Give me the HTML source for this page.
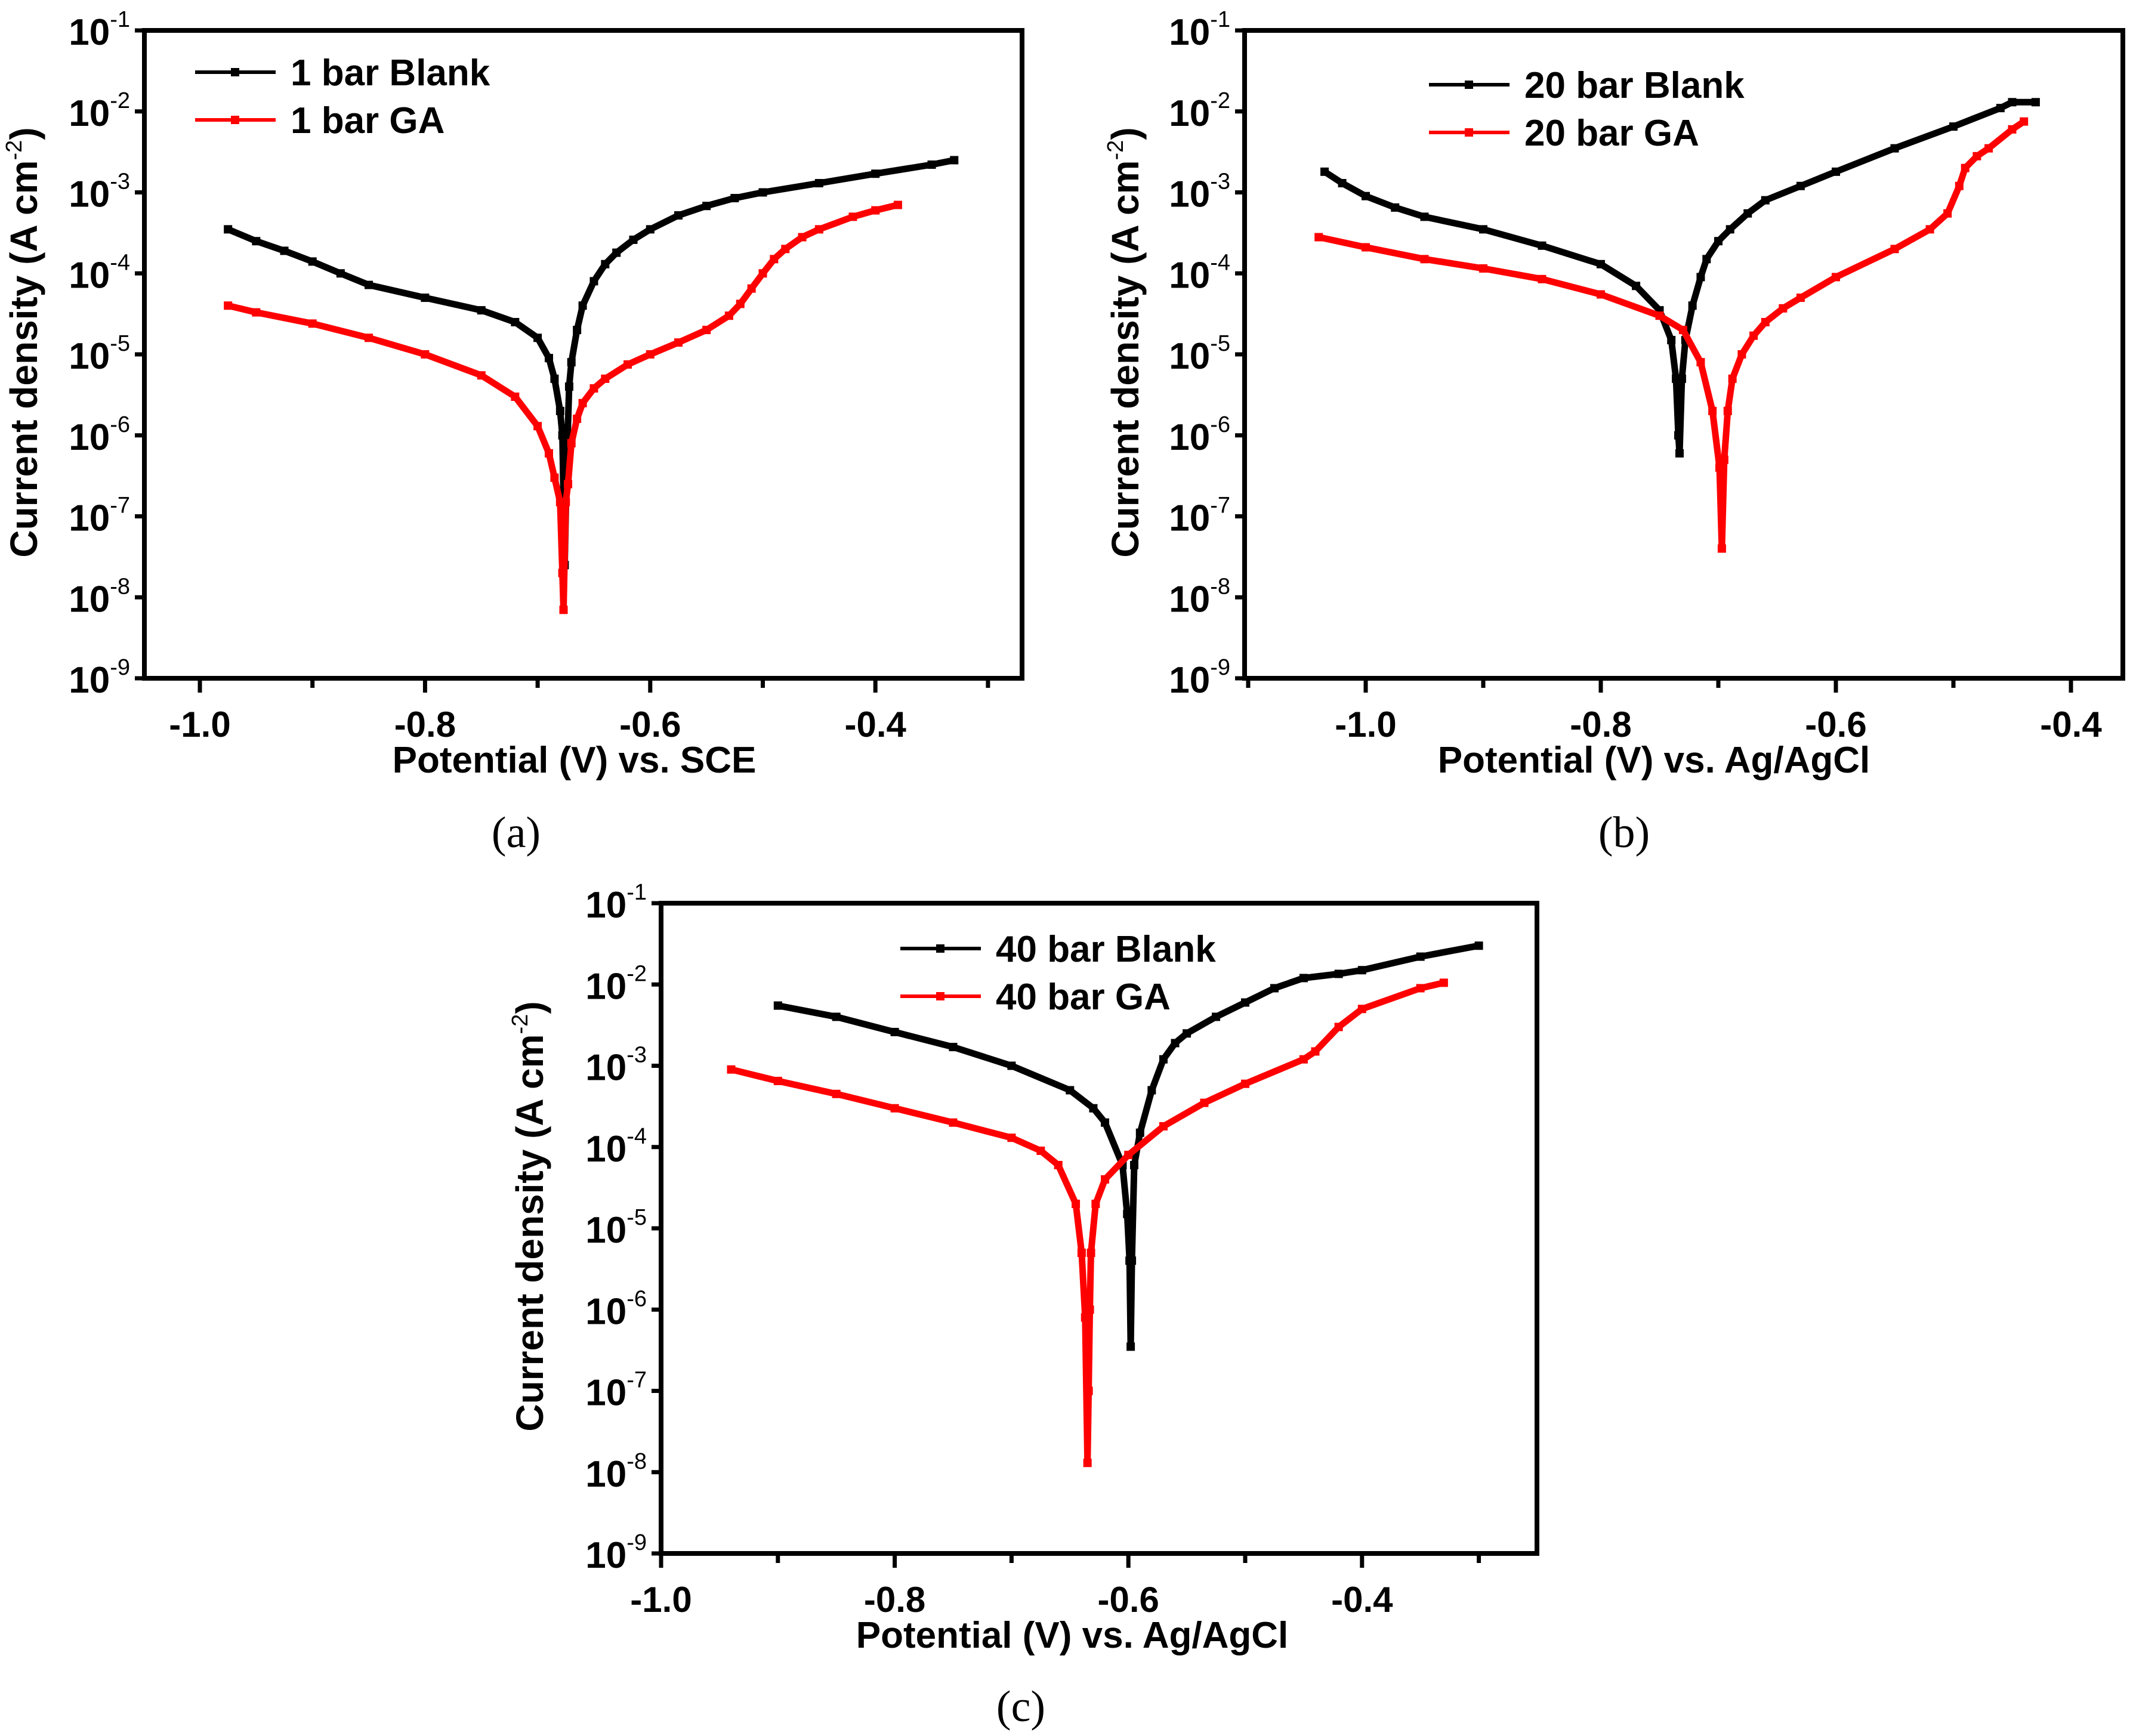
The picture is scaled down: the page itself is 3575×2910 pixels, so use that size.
<!DOCTYPE html>
<html><head><meta charset="utf-8"><style>
body{margin:0;background:#fff}
svg{display:block}
text{font-family:"Liberation Sans",Arial,sans-serif;font-weight:bold;fill:#000}
.cap{font-family:"Liberation Serif",serif;font-weight:normal}
</style></head><body>
<svg id="fig" width="3575" height="2910" viewBox="0 0 3575 2910" xmlns="http://www.w3.org/2000/svg">
<rect width="3575" height="2910" fill="#fff"/>
</svg>
<script>
// Panel (a) data
const aBlankX=[-0.975,-0.95,-0.925,-0.9,-0.875,-0.85,-0.8,-0.75,-0.72,-0.70,-0.69,-0.685,-0.68,-0.678,-0.676,-0.674,-0.672,-0.67,-0.665,-0.66,-0.65,-0.64,-0.63,-0.615,-0.6,-0.575,-0.55,-0.525,-0.5,-0.45,-0.4,-0.35,-0.33];
const aBlankY=[3.5e-4,2.5e-4,1.9e-4,1.4e-4,1e-4,7.2e-5,5e-5,3.5e-5,2.5e-5,1.6e-5,9e-6,5e-6,2e-6,1e-6,2.5e-8,5e-7,4e-6,8e-6,2e-5,4e-5,8e-5,1.3e-4,1.8e-4,2.6e-4,3.5e-4,5.2e-4,6.8e-4,8.5e-4,1e-3,1.3e-3,1.7e-3,2.2e-3,2.5e-3];
const aGaX=[-0.975,-0.95,-0.9,-0.85,-0.8,-0.75,-0.72,-0.70,-0.69,-0.685,-0.68,-0.678,-0.677,-0.675,-0.673,-0.67,-0.665,-0.66,-0.65,-0.64,-0.62,-0.6,-0.575,-0.55,-0.53,-0.52,-0.51,-0.5,-0.49,-0.48,-0.465,-0.45,-0.42,-0.4,-0.38];
const aGaY=[4e-5,3.3e-5,2.4e-5,1.6e-5,1e-5,5.5e-6,3e-6,1.3e-6,6e-7,3e-7,1.5e-7,2e-8,7e-9,1.5e-7,2.5e-7,8e-7,1.6e-6,2.5e-6,3.8e-6,5e-6,7.5e-6,1e-5,1.4e-5,2e-5,3e-5,4.2e-5,6.5e-5,1e-4,1.5e-4,2e-4,2.8e-4,3.5e-4,5e-4,6e-4,7e-4];
// Panel (b) data
const bBlankX=[-1.035,-1.02,-1.0,-0.975,-0.95,-0.9,-0.85,-0.8,-0.77,-0.75,-0.74,-0.736,-0.734,-0.733,-0.731,-0.728,-0.722,-0.715,-0.71,-0.7,-0.69,-0.675,-0.66,-0.63,-0.6,-0.55,-0.5,-0.46,-0.45,-0.43];
const bBlankY=[1.8e-3,1.3e-3,9e-4,6.5e-4,5e-4,3.5e-4,2.2e-4,1.3e-4,7e-5,3.5e-5,1.5e-5,5e-6,1e-6,6e-7,5e-6,1.5e-5,4e-5,9e-5,1.5e-4,2.5e-4,3.5e-4,5.5e-4,8e-4,1.2e-3,1.8e-3,3.5e-3,6.5e-3,1.1e-2,1.3e-2,1.3e-2];
const bGaX=[-1.04,-1.0,-0.95,-0.9,-0.85,-0.8,-0.75,-0.73,-0.715,-0.705,-0.699,-0.697,-0.695,-0.692,-0.688,-0.68,-0.67,-0.66,-0.645,-0.63,-0.6,-0.55,-0.52,-0.505,-0.495,-0.49,-0.48,-0.47,-0.45,-0.44];
const bGaY=[2.8e-4,2.1e-4,1.5e-4,1.15e-4,8.5e-5,5.5e-5,3e-5,2e-5,8e-6,2e-6,4e-7,4e-8,5e-7,2e-6,5e-6,1e-5,1.7e-5,2.5e-5,3.7e-5,5e-5,9e-5,2e-4,3.5e-4,5.5e-4,1.2e-3,2e-3,2.8e-3,3.5e-3,6e-3,7.5e-3];
// Panel (c) data
const cBlankX=[-0.9,-0.85,-0.8,-0.75,-0.7,-0.65,-0.63,-0.62,-0.605,-0.601,-0.599,-0.598,-0.597,-0.595,-0.59,-0.58,-0.57,-0.56,-0.55,-0.525,-0.5,-0.475,-0.45,-0.42,-0.4,-0.35,-0.3];
const cBlankY=[5.5e-3,4e-3,2.6e-3,1.7e-3,1e-3,5e-4,3e-4,2e-4,6e-5,1.5e-5,4e-6,3.5e-7,4e-6,6e-5,1.5e-4,5e-4,1.2e-3,1.9e-3,2.5e-3,4e-3,6e-3,9e-3,1.2e-2,1.35e-2,1.5e-2,2.2e-2,3e-2];
const cGaX=[-0.94,-0.9,-0.85,-0.8,-0.75,-0.7,-0.675,-0.66,-0.645,-0.64,-0.637,-0.635,-0.634,-0.633,-0.632,-0.628,-0.62,-0.6,-0.57,-0.535,-0.5,-0.45,-0.44,-0.42,-0.4,-0.35,-0.33];
const cGaY=[9e-4,6.5e-4,4.5e-4,3e-4,2e-4,1.3e-4,9e-5,6e-5,2e-5,5e-6,8e-7,1.3e-8,1e-7,1e-6,5e-6,2e-5,4e-5,8e-5,1.8e-4,3.5e-4,6e-4,1.2e-3,1.5e-3,3e-3,5e-3,9e-3,1.05e-2];
const decadeTicks=[-9,-8,-7,-6,-5,-4,-3,-2,-1];
const xTickVals=[-1.0,-0.8,-0.6,-0.4];
const xTickLabels=["-1.0","-0.8","-0.6","-0.4"];

const NS="http://www.w3.org/2000/svg";
const svg=document.getElementById('fig');
function mk(tag,attrs,parent){const e=document.createElementNS(NS,tag);for(const k in attrs)e.setAttribute(k,attrs[k]);(parent||svg).appendChild(e);return e;}

function panel(cfg){
  const g=mk('g',{});
  
  
  const L=cfg.L,R=cfg.R,T=cfg.T,B=cfg.B;
  const sx=v=>cfg.x0px+(v-(-1.0))*cfg.pxPerV;
  const sy=v=>T+(-1-Math.log10(v))*(B-T)/8;
  const syl=l=>T+(-1-l)*(B-T)/8;
  cfg.series.forEach(s=>{
    const pts=s.x.map((v,i)=>sx(v).toFixed(1)+','+sy(s.y[i]).toFixed(1)).join(' ');
    const pl=mk('polyline',{points:pts,fill:'none',stroke:s.color,'stroke-width':11,'stroke-linejoin':'round','stroke-linecap':'round'},g);
    
    
    s.x.forEach((v,i)=>{
      const m=mk('rect',{x:sx(v)-7,y:sy(s.y[i])-7,width:14,height:14,fill:s.color},g);
      
      
    });
  });
  const fr=mk('rect',{x:L,y:T,width:R-L,height:B-T,fill:'none',stroke:'#000','stroke-width':8},g);
  
  
  decadeTicks.forEach(l=>{
    const y=syl(l);
    mk('line',{x1:L-16,x2:L,y1:y,y2:y,stroke:'#000','stroke-width':7},g);
    const t=mk('text',{x:L-24,y:y+24,'text-anchor':'end','font-size':62},g);
    
    
    t.textContent='10';
    const s=mk('tspan',{dy:-30,'font-size':38,'font-weight':'normal'},t);
    s.textContent=String(l);
  });
  for(let v=-1.2;v<=-0.19;v+=0.1){
    const vv=Math.round(v*10)/10;const x=sx(vv);
    if(x<L-2||x>R+2)continue;
    const major=xTickVals.includes(vv);
    mk('line',{x1:x,x2:x,y1:B,y2:B+(major?24:16),stroke:'#000','stroke-width':7},g);
  }
  xTickVals.forEach((v,i)=>{
    const t=mk('text',{x:sx(v),y:B+98,'text-anchor':'middle','font-size':60},g);
    
    
    t.textContent=xTickLabels[i];
  });
  const xt=mk('text',{x:(L+R)/2+cfg.xtOff,y:B+158,'text-anchor':'middle','font-size':62},g);
  
  
  xt.textContent=cfg.xTitle;
  const yt=mk('text',{x:0,y:0,'text-anchor':'middle','font-size':64,transform:`translate(${cfg.ytX},${(T+B)/2-20}) rotate(-90)`},g);
  
  
  yt.textContent='Current density (A cm';
  const ys=mk('tspan',{dy:-26,'font-size':38,'font-weight':'normal'},yt);ys.textContent='-2';
  const ye=mk('tspan',{dy:26},yt);ye.textContent=')';
  cfg.series.forEach((s,i)=>{
    const y=cfg.legY+i*80;
    const le=mk('g',{},g);
    
    
    mk('line',{x1:cfg.legX,x2:cfg.legX+135,y1:y,y2:y,stroke:s.color,'stroke-width':6},le);
    mk('rect',{x:cfg.legX+60,y:y-7,width:14,height:14,fill:s.color},le);
    const t=mk('text',{x:cfg.legX+160,y:y+22,'font-size':62},le);
    t.textContent=s.label;
  });
  const cap=mk('text',{x:cfg.capX,y:cfg.capY,'text-anchor':'middle','font-size':74,'class':'cap'},g);
  
  
  cap.textContent=cfg.cap;
}

panel({name:'chart-a',L:242,R:1713,T:51,B:1137,x0px:335,pxPerV:1887,xTitle:'Potential (V) vs. SCE',xtOff:-15,ytX:62,legX:327,legY:121,capX:865,capY:1420,cap:'(a)',
  series:[{id:'1bar-blank',label:'1 bar Blank',color:'#000',x:aBlankX,y:aBlankY},{id:'1bar-ga',label:'1 bar GA',color:'#f00',x:aGaX,y:aGaY}]});
panel({name:'chart-b',L:2086,R:3558,T:51,B:1137,x0px:2289,pxPerV:1970,xTitle:'Potential (V) vs. Ag/AgCl',xtOff:-50,ytX:1908,legX:2395,legY:142,capX:2722,capY:1420,cap:'(b)',
  series:[{id:'20bar-blank',label:'20 bar Blank',color:'#000',x:bBlankX,y:bBlankY},{id:'20bar-ga',label:'20 bar GA',color:'#f00',x:bGaX,y:bGaY}]});
panel({name:'chart-c',L:1108,R:2576,T:1514,B:2604,x0px:1108,pxPerV:1958,xTitle:'Potential (V) vs. Ag/AgCl',xtOff:-45,ytX:910,legX:1509,legY:1590,capX:1711,capY:2885,cap:'(c)',
  series:[{id:'40bar-blank',label:'40 bar Blank',color:'#000',x:cBlankX,y:cBlankY},{id:'40bar-ga',label:'40 bar GA',color:'#f00',x:cGaX,y:cGaY}]});
</script>
</body></html>
